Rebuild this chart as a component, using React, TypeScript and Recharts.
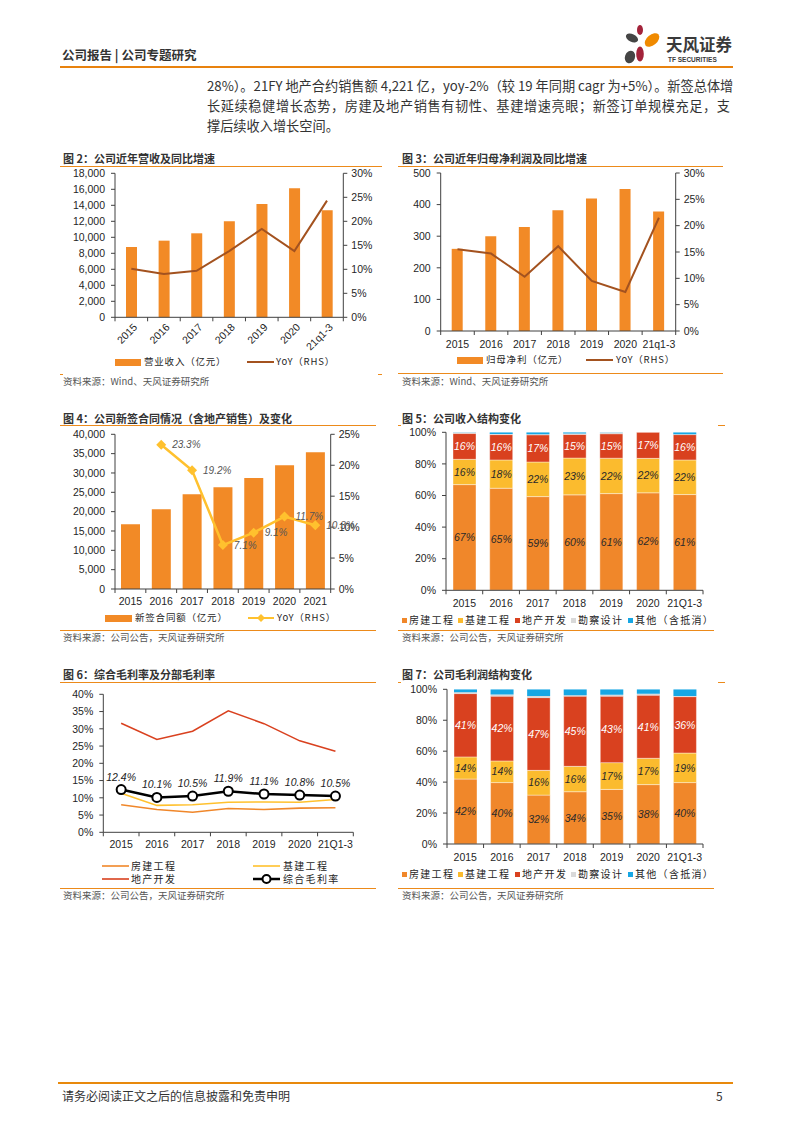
import React from 'react';
import { ComposedChart, Bar, Line, XAxis, YAxis, LabelList } from 'recharts';

const NUM = '"Liberation Sans", Arial, "Noto Sans CJK SC", sans-serif';
const CJK = '"Noto Sans CJK SC", "Liberation Sans", sans-serif';
const AXIS = '#404040';
const TXT = '#1f1f1f';
const RULE = '#EC8A1A';

const C_BAR = '#F28A26';
const C_BROWN = '#A3521F';
const C_YELLOW = '#FFC12E';
const C_HOUSE = '#F0872A';
const C_INFRA = '#FBBB2E';
const C_PROP = '#D9411F';
const C_DESIGN = '#D9D9D9';
const C_OTHER = '#17A7E4';

// 图2 营收
const years = ['2015', '2016', '2017', '2018', '2019', '2020', '21q1-3'];
const revenue = [8790, 9580, 10500, 12000, 14170, 16130, 13380];
const revenueYoy = [10.1, 9.0, 9.7, 13.8, 18.4, 13.8, 24.3];
const revenueTicks = [0, 2000, 4000, 6000, 8000, 10000, 12000, 14000, 16000, 18000];
const pct30Ticks = [0, 5, 10, 15, 20, 25, 30];

// 图3 归母净利润
const netProfit = [260, 300, 329, 382, 419, 449, 378];
const netProfitYoy = [15.5, 14.7, 10.3, 16.1, 9.5, 7.4, 21.5];
const profitTicks = [0, 100, 200, 300, 400, 500];

// 图4 新签合同
const contractYears = ['2015', '2016', '2017', '2018', '2019', '2020', '2021'];
const newContracts = [16720, 20600, 24480, 26290, 28710, 31980, 35350];
const contractYoy = [null, 23.3, 19.2, 7.1, 9.1, 11.7, 10.3];
const contractTicks = [0, 5000, 10000, 15000, 20000, 25000, 30000, 35000, 40000];
const pct25Ticks = [0, 5, 10, 15, 20, 25];

// 图5 收入结构 (%)
const structYears = ['2015', '2016', '2017', '2018', '2019', '2020', '21Q1-3'];
const revHouse = [66.9, 64.6, 59.3, 60.4, 61.2, 61.7, 60.6];
const revInfra = [16.0, 17.9, 21.9, 23.3, 22.4, 21.8, 21.9];
const revProp = [16.3, 16.0, 17.1, 14.9, 15.4, 16.5, 16.0];
const revDesign = [0.6, 0.4, 0.5, 0.7, 0.8, 0.0, 0.3];
const revOther = [0.2, 1.1, 1.2, 0.7, 0.2, -0.3, 1.2];
const pct100Ticks = [0, 20, 40, 60, 80, 100];

// 图6 毛利率 (%)
const gmHouse = [8.0, 6.6, 5.8, 6.9, 6.6, 7.0, 7.1];
const gmInfra = [11.3, 7.8, 8.0, 8.7, 8.8, 8.7, 9.5];
const gmProp = [31.6, 26.9, 29.3, 35.2, 31.5, 26.5, 23.5];
const gmTotal = [12.4, 10.1, 10.5, 11.9, 11.1, 10.8, 10.5];
const pct40Ticks = [0, 5, 10, 15, 20, 25, 30, 35, 40];

// 图7 毛利润结构 (%)
const gpHouse = [42.0, 39.7, 31.6, 33.8, 35.3, 38.4, 39.7];
const gpInfra = [14.3, 14.0, 16.0, 16.4, 17.3, 17.0, 19.1];
const gpProp = [40.9, 41.8, 47.0, 45.3, 42.9, 40.7, 36.4];
const gpDesign = [0.9, 1.1, 1.0, 0.7, 1.0, 1.1, 0.5];
const gpOther = [1.9, 3.4, 4.4, 3.8, 3.5, 2.8, 4.3];

const revData = years.map((y, i) => ({ year: y, value: revenue[i], yoy: revenueYoy[i] }));
const profitData = years.map((y, i) => ({ year: y, value: netProfit[i], yoy: netProfitYoy[i] }));
const contractData = contractYears.map((y, i) => ({ year: y, value: newContracts[i], yoy: contractYoy[i] }));
const revStructData = structYears.map((y, i) => ({
  year: y, house: revHouse[i], infra: revInfra[i], prop: revProp[i], design: revDesign[i], other: revOther[i],
}));
const marginData = structYears.map((y, i) => ({
  year: y, house: gmHouse[i], infra: gmInfra[i], prop: gmProp[i], total: gmTotal[i],
}));
const gpStructData = structYears.map((y, i) => ({
  year: y, house: gpHouse[i], infra: gpInfra[i], prop: gpProp[i], design: gpDesign[i], other: gpOther[i],
}));

type Box = { x: number; y: number; w: number; h: number; l: number; t: number; r: number; b: number };

const fmtThousands = (v: number) => v.toLocaleString('en-US');
const fmtPct = (v: number) => `${v}%`;
const fmtRound = (v: any) => `${Math.round(Number(v))}%`;

// x-axis tick: label centred in band, tick marks on band boundaries
function bandTick(dy: number, rotate = false) {
  return (props: any) => {
    const { x, y, payload, width, visibleTicksCount, index } = props;
    const bw = width && visibleTicksCount ? width / visibleTicksCount : 0;
    const last = index === visibleTicksCount - 1;
    return (
      <g>
        {bw > 0 && <line x1={x - bw / 2} x2={x - bw / 2} y1={y} y2={y + 4} stroke={AXIS} />}
        {bw > 0 && last && <line x1={x + bw / 2} x2={x + bw / 2} y1={y} y2={y + 4} stroke={AXIS} />}
        {rotate ? (
          <text
            x={x + 4}
            y={y + 8}
            textAnchor="end"
            dy="0.35em"
            transform={`rotate(-45 ${x + 4} ${y + 8})`}
            fontSize={10.5}
            fontFamily={NUM}
            fill={TXT}
          >
            {payload.value}
          </text>
        ) : (
          <text x={x} y={y + dy} textAnchor="middle" dy="0.35em" fontSize={10.5} fontFamily={NUM} fill={TXT}>
            {payload.value}
          </text>
        )}
      </g>
    );
  };
}

const yTick = { fontSize: 10.5, fontFamily: NUM, fill: TXT };

function frame(bx: Box, hasRight: boolean) {
  return {
    width: bx.w,
    height: bx.h,
    margin: { top: bx.t - bx.y, right: hasRight ? 0 : bx.x + bx.w - bx.r, bottom: 0, left: 0 },
    leftW: bx.l - bx.x,
    rightW: bx.x + bx.w - bx.r,
    xH: bx.y + bx.h - bx.b,
  };
}

const Abs = ({ x, y, children, style }: any) => (
  <div style={{ position: 'absolute', left: x, top: y, transform: 'translateY(-50%)', whiteSpace: 'nowrap', lineHeight: 1, ...style }}>
    {children}
  </div>
);

const Title = ({ x, y, text }: any) => (
  <Abs x={x} y={y} style={{ fontFamily: CJK, fontSize: 11, fontWeight: 700, color: '#333' }}>{text}</Abs>
);

const Source = ({ x, y, text }: any) => (
  <Abs x={x} y={y} style={{ fontFamily: CJK, fontSize: 9.5, color: '#555' }}>{text}</Abs>
);

const Rule = ({ x, y, w }: any) => (
  <div style={{ position: 'absolute', left: x, top: y, width: w, height: 1.3, background: RULE }} />
);

const LegendText = ({ x, y, text, small }: any) => (
  <Abs x={x} y={y} style={{ fontFamily: CJK, fontSize: small ? 9.5 : 10, letterSpacing: small ? 0.8 : 1.3, color: TXT }}>{text}</Abs>
);

const BarSwatch = ({ x, y, w, h, color }: any) => (
  <div style={{ position: 'absolute', left: x, top: y - h / 2, width: w, height: h, background: color }} />
);

const LineSwatch = ({ x, y, w, color, thick = 2, marker }: any) => (
  <svg style={{ position: 'absolute', left: x, top: y - 6 }} width={w} height={12}>
    <line x1={0} x2={w} y1={6} y2={6} stroke={color} strokeWidth={thick} />
    {marker === 'diamond' && <path d={`M${w / 2} 2 L${w / 2 + 4} 6 L${w / 2} 10 L${w / 2 - 4} 6 Z`} fill={color} />}
    {marker === 'circle' && <circle cx={w / 2} cy={6} r={4} fill="#fff" stroke={color} strokeWidth={2} />}
  </svg>
);

const Diamond = (p: any) => {
  const { cx, cy, index } = p;
  if (cx == null || cy == null || p.value == null) return <g key={`d-${index}`} />;
  return <path key={`d-${index}`} d={`M${cx} ${cy - 5} L${cx + 5} ${cy} L${cx} ${cy + 5} L${cx - 5} ${cy} Z`} fill={C_YELLOW} />;
};

const ContractLabel = (p: any) => {
  const { x, y, value, index } = p;
  if (value == null) return null;
  return (
    <text key={`cl-${index}`} x={x + 11} y={y} dy="0.35em" fontSize={10} fontStyle="italic" fontFamily={NUM} fill="#555">
      {`${Number(value).toFixed(1)}%`}
    </text>
  );
};

function DualChart({ bx, data, leftTicks, leftFmt, rightTicks, barSize, barColor, lineColor, rotate, dy, contract }: any) {
  const f = frame(bx, true);
  return (
    <div style={{ position: 'absolute', left: bx.x, top: bx.y }}>
      <ComposedChart width={f.width} height={f.height} data={data} margin={f.margin}>
        <XAxis
          dataKey="year"
          height={f.xH}
          interval={0}
          tickSize={0}
          tickMargin={0}
          tickLine={false}
          axisLine={{ stroke: AXIS }}
          tick={bandTick(dy, rotate)}
        />
        <YAxis
          yAxisId="l"
          orientation="left"
          width={f.leftW}
          domain={[leftTicks[0], leftTicks[leftTicks.length - 1]]}
          ticks={leftTicks}
          interval={0}
          tickFormatter={leftFmt}
          tick={yTick}
          tickSize={4}
          tickMargin={6}
          axisLine={{ stroke: AXIS }}
          tickLine={{ stroke: AXIS }}
        />
        <YAxis
          yAxisId="r"
          orientation="right"
          width={f.rightW}
          domain={[rightTicks[0], rightTicks[rightTicks.length - 1]]}
          ticks={rightTicks}
          interval={0}
          tickFormatter={fmtPct}
          tick={yTick}
          tickSize={4}
          tickMargin={4}
          axisLine={{ stroke: AXIS }}
          tickLine={{ stroke: AXIS }}
        />
        <Bar yAxisId="l" dataKey="value" barSize={barSize} fill={barColor} isAnimationActive={false} />
        {contract ? (
          <Line
            yAxisId="r"
            dataKey="yoy"
            type="linear"
            stroke={lineColor}
            strokeWidth={2.5}
            dot={Diamond}
            activeDot={false}
            connectNulls
            isAnimationActive={false}
          >
            <LabelList dataKey="yoy" content={ContractLabel} />
          </Line>
        ) : (
          <Line
            yAxisId="r"
            dataKey="yoy"
            type="linear"
            stroke={lineColor}
            strokeWidth={2}
            dot={false}
            activeDot={false}
            isAnimationActive={false}
          />
        )}
      </ComposedChart>
    </div>
  );
}

function StackChart({ bx, data, dy }: any) {
  const f = frame(bx, false);
  const lbl = (fill: string) => ({
    position: 'center' as const,
    formatter: fmtRound,
    fill,
    fontSize: 10.5,
    fontStyle: 'italic',
    fontFamily: NUM,
  });
  return (
    <div style={{ position: 'absolute', left: bx.x, top: bx.y }}>
      <ComposedChart width={f.width} height={f.height} data={data} margin={f.margin} stackOffset="sign">
        <XAxis
          dataKey="year"
          height={f.xH}
          interval={0}
          tickSize={0}
          tickMargin={0}
          tickLine={false}
          axisLine={{ stroke: AXIS }}
          tick={bandTick(dy)}
        />
        <YAxis
          width={f.leftW}
          domain={[0, 100]}
          allowDataOverflow
          ticks={pct100Ticks}
          interval={0}
          tickFormatter={fmtPct}
          tick={yTick}
          tickSize={4}
          tickMargin={6}
          axisLine={{ stroke: AXIS }}
          tickLine={{ stroke: AXIS }}
        />
        <Bar dataKey="house" stackId="s" barSize={23} fill={C_HOUSE} stroke="#fff" strokeWidth={0.4} isAnimationActive={false}>
          <LabelList dataKey="house" {...lbl('#2a2a2a')} />
        </Bar>
        <Bar dataKey="infra" stackId="s" barSize={23} fill={C_INFRA} stroke="#fff" strokeWidth={0.4} isAnimationActive={false}>
          <LabelList dataKey="infra" {...lbl('#2a2a2a')} />
        </Bar>
        <Bar dataKey="prop" stackId="s" barSize={23} fill={C_PROP} stroke="#fff" strokeWidth={0.4} isAnimationActive={false}>
          <LabelList dataKey="prop" {...lbl('#ffffff')} />
        </Bar>
        <Bar dataKey="design" stackId="s" barSize={23} fill={C_DESIGN} isAnimationActive={false} />
        <Bar dataKey="other" stackId="s" barSize={23} fill={C_OTHER} isAnimationActive={false} />
      </ComposedChart>
    </div>
  );
}

function MarginChart({ bx, data, dy }: any) {
  const f = frame(bx, false);
  return (
    <div style={{ position: 'absolute', left: bx.x, top: bx.y }}>
      <ComposedChart width={f.width} height={f.height} data={data} margin={f.margin}>
        <XAxis
          dataKey="year"
          scale="band"
          height={f.xH}
          interval={0}
          tickSize={0}
          tickMargin={0}
          tickLine={false}
          axisLine={{ stroke: AXIS }}
          tick={bandTick(dy)}
        />
        <YAxis
          width={f.leftW}
          domain={[0, 40]}
          ticks={pct40Ticks}
          interval={0}
          tickFormatter={fmtPct}
          tick={yTick}
          tickSize={4}
          tickMargin={6}
          axisLine={{ stroke: AXIS }}
          tickLine={{ stroke: AXIS }}
        />
        <Line dataKey="house" type="linear" stroke={C_HOUSE} strokeWidth={1.6} dot={false} activeDot={false} isAnimationActive={false} />
        <Line dataKey="infra" type="linear" stroke={C_YELLOW} strokeWidth={1.6} dot={false} activeDot={false} isAnimationActive={false} />
        <Line dataKey="prop" type="linear" stroke={C_PROP} strokeWidth={1.6} dot={false} activeDot={false} isAnimationActive={false} />
        <Line
          dataKey="total"
          type="linear"
          stroke="#000"
          strokeWidth={2.5}
          dot={{ r: 4.5, fill: '#fff', stroke: '#000', strokeWidth: 2 }}
          activeDot={false}
          isAnimationActive={false}
        >
          <LabelList
            dataKey="total"
            position="top"
            offset={9}
            formatter={(v: any) => `${Number(v).toFixed(1)}%`}
            fill="#222"
            fontSize={10.5}
            fontStyle="italic"
            fontFamily={NUM}
          />
        </Line>
      </ComposedChart>
    </div>
  );
}

const StructLegend = ({ y }: any) => {
  const items = [
    { c: C_HOUSE, t: '房建工程', x: 402 },
    { c: C_INFRA, t: '基建工程', x: 458 },
    { c: C_PROP, t: '地产开发', x: 515 },
    { c: C_DESIGN, t: '勘察设计', x: 571 },
    { c: C_OTHER, t: '其他（含抵消）', x: 628 },
  ];
  return (
    <>
      {items.map((it) => (
        <React.Fragment key={it.t}>
          <BarSwatch x={it.x} y={y} w={5} h={5} color={it.c} />
          <LegendText x={it.x + 7} y={y} text={it.t} />
        </React.Fragment>
      ))}
    </>
  );
};

export default function App() {
  return (
    <div style={{ position: 'absolute', left: 0, top: 0, width: 793, height: 1122, background: '#fff', overflow: 'hidden' }}>
      {/* header */}
      <Abs x={62} y={55} style={{ fontFamily: CJK, fontSize: 12.5, fontWeight: 700, color: '#333' }}>公司报告 | 公司专题研究</Abs>
      <div style={{ position: 'absolute', left: 60, top: 66, width: 673, height: 2, background: '#E8820E' }} />
      <svg style={{ position: 'absolute', left: 615, top: 24 }} width={50} height={45}>
        <ellipse cx={25} cy={6} rx={3} ry={5} fill="#A3233A" />
        <ellipse cx={17} cy={14} rx={6.5} ry={3.8} fill="#454545" transform="rotate(25 17 14)" />
        <ellipse cx={37} cy={16} rx={8.5} ry={5.2} fill="#F08A00" transform="rotate(-40 37 16)" />
        <ellipse cx={25} cy={30} rx={3.8} ry={7.5} fill="#A3233A" />
        <ellipse cx={15} cy={33} rx={5} ry={6.5} fill="#454545" transform="rotate(20 15 33)" />
      </svg>
      <Abs x={666} y={44} style={{ fontFamily: CJK, fontSize: 16.5, fontWeight: 700, color: '#3a3a3a' }}>天风证券</Abs>
      <Abs x={668} y={60} style={{ fontFamily: NUM, fontSize: 6.5, fontWeight: 700, color: '#3a3a3a' }}>TF SECURITIES</Abs>

      {/* body text */}
      <div style={{ position: 'absolute', left: 207, top: 76, width: 523, fontFamily: CJK, fontSize: 13.2, color: '#333', lineHeight: '20px' }}>
        <div style={{ textAlign: 'justify', textAlignLast: 'justify', whiteSpace: 'nowrap' }}>
          28%）。21FY 地产合约销售额 4,221 亿，yoy-2%（较 19 年同期 cagr 为+5%）。新签总体增
        </div>
        <div style={{ textAlign: 'justify', textAlignLast: 'justify' }}>
          长延续稳健增长态势，房建及地产销售有韧性、基建增速亮眼；新签订单规模充足，支
        </div>
        <div>撑后续收入增长空间。</div>
      </div>

      {/* 图2 */}
      <Title x={63} y={158} text="图 2：公司近年营收及同比增速" />
      <Rule x={60} y={165.5} w={322} />
      <DualChart
        bx={{ x: 60, y: 163, w: 322, h: 200, l: 115, t: 173.3, r: 343.3, b: 317.3 }}
        data={revData}
        leftTicks={revenueTicks}
        leftFmt={fmtThousands}
        rightTicks={pct30Ticks}
        barSize={11}
        barColor={C_BAR}
        lineColor={C_BROWN}
        rotate
        dy={13}
      />
      <BarSwatch x={115} y={362} w={26} h={7} color={C_BAR} />
      <LegendText x={144} y={362} text="营业收入（亿元）" small />
      <LineSwatch x={247} y={362} w={27} color={C_BROWN} />
      <LegendText x={276} y={362} text="YoY（RHS）" small />
      <Rule x={60} y={373.5} w={3} />
      <Rule x={378} y={373.5} w={4} />
      <Source x={63} y={382} text="资料来源：Wind、天风证券研究所" />

      {/* 图3 */}
      <Title x={402} y={158} text="图 3：公司近年归母净利润及同比增速" />
      <Rule x={398} y={165.5} w={325} />
      <DualChart
        bx={{ x: 398, y: 163, w: 325, h: 195, l: 440.7, t: 173, r: 675.7, b: 331 }}
        data={profitData}
        leftTicks={profitTicks}
        leftFmt={(v: number) => `${v}`}
        rightTicks={pct30Ticks}
        barSize={11}
        barColor={C_BAR}
        lineColor={C_BROWN}
        dy={13}
      />
      <BarSwatch x={457} y={360} w={26} h={7} color={C_BAR} />
      <LegendText x={486} y={360} text="归母净利（亿元）" small />
      <LineSwatch x={586} y={360} w={27} color={C_BROWN} />
      <LegendText x={616} y={360} text="YoY（RHS）" small />
      <Rule x={398} y={373} w={325} />
      <Source x={402} y={382} text="资料来源：Wind、天风证券研究所" />

      {/* 图4 */}
      <Title x={63} y={418} text="图 4：公司新签合同情况（含地产销售）及变化" />
      <Rule x={60} y={425} w={316} />
      <DualChart
        bx={{ x: 60, y: 426, w: 320, h: 187, l: 115, t: 434.3, r: 330.7, b: 589 }}
        data={contractData}
        leftTicks={contractTicks}
        leftFmt={fmtThousands}
        rightTicks={pct25Ticks}
        barSize={19}
        barColor={C_BAR}
        lineColor={C_YELLOW}
        dy={12.5}
        contract
      />
      <BarSwatch x={105} y={618} w={27} h={7} color={C_BAR} />
      <LegendText x={135} y={618} text="新签合同额（亿元）" small />
      <LineSwatch x={248} y={618} w={26} color={C_YELLOW} marker="diamond" />
      <LegendText x={277} y={618} text="YoY（RHS）" small />
      <Rule x={60} y={629.5} w={316} />
      <Source x={63} y={638} text="资料来源：公司公告，天风证券研究所" />

      {/* 图5 */}
      <Title x={402} y={418} text="图 5：公司收入结构变化" />
      <Rule x={398} y={425} w={3} />
      <Rule x={718} y={425} w={7} />
      <StackChart bx={{ x: 398, y: 424, w: 325, h: 189, l: 446, t: 432.3, r: 703, b: 590.3 }} data={revStructData} dy={13.5} />
      <StructLegend y={620} />
      <Rule x={398} y={629.5} w={316} />
      <Source x={402} y={638} text="资料来源：公司公告，天风证券研究所" />

      {/* 图6 */}
      <Title x={63} y={674} text="图 6：综合毛利率及分部毛利率" />
      <Rule x={60} y={681.5} w={316} />
      <MarginChart bx={{ x: 60, y: 684, w: 320, h: 174, l: 103.3, t: 694.3, r: 353.3, b: 832.3 }} data={marginData} dy={12} />
      <LineSwatch x={102} y={866} w={27} color={C_HOUSE} thick={1.6} />
      <LegendText x={131} y={866} text="房建工程" />
      <LineSwatch x={253} y={866} w={27} color={C_YELLOW} thick={1.6} />
      <LegendText x={283} y={866} text="基建工程" />
      <LineSwatch x={102} y={879} w={27} color={C_PROP} thick={1.6} />
      <LegendText x={131} y={879} text="地产开发" />
      <LineSwatch x={253} y={879} w={27} color="#000" thick={2.5} marker="circle" />
      <LegendText x={283} y={879} text="综合毛利率" />
      <Rule x={60} y={887.5} w={316} />
      <Source x={63} y={896} text="资料来源：公司公告，天风证券研究所" />

      {/* 图7 */}
      <Title x={402} y={674} text="图 7：公司毛利润结构变化" />
      <Rule x={398} y={682} w={3} />
      <Rule x={718} y={682} w={7} />
      <StackChart bx={{ x: 398, y: 680, w: 325, h: 189, l: 447, t: 689.3, r: 703, b: 844 }} data={gpStructData} dy={13} />
      <StructLegend y={874} />
      <Rule x={398} y={887.5} w={316} />
      <Source x={402} y={896} text="资料来源：公司公告，天风证券研究所" />

      {/* footer */}
      <div style={{ position: 'absolute', left: 58, top: 1082, width: 675, height: 2, background: '#E8890C' }} />
      <Abs x={62} y={1096} style={{ fontFamily: CJK, fontSize: 12, color: '#333' }}>请务必阅读正文之后的信息披露和免责申明</Abs>
      <Abs x={716} y={1096} style={{ fontFamily: CJK, fontSize: 12, color: '#333' }}>5</Abs>
    </div>
  );
}
